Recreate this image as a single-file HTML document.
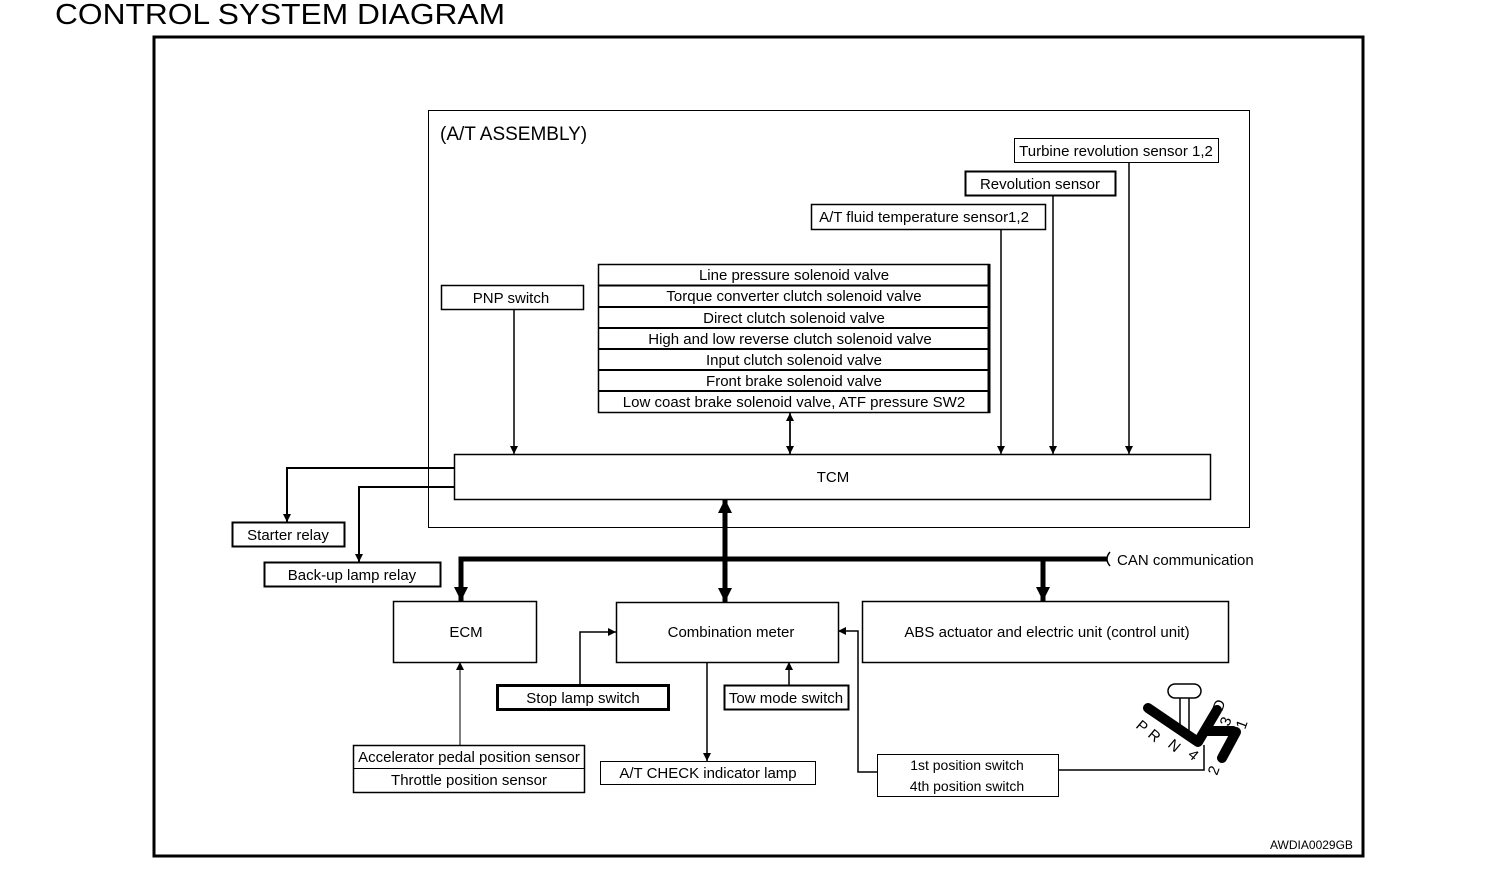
<!DOCTYPE html>
<html><head><meta charset="utf-8"><style>
html,body{margin:0;padding:0;background:#fff;}
svg{display:block;}
text{font-family:"Liberation Sans Narrow","Liberation Sans",sans-serif;font-size:15px;fill:#000;}
</style></head><body>
<svg width="1504" height="870" viewBox="0 0 1504 870" xmlns="http://www.w3.org/2000/svg">
<defs>
<marker id="a" viewBox="0 0 10 10" refX="10" refY="5" markerWidth="8" markerHeight="8" markerUnits="userSpaceOnUse" orient="auto"><path d="M0,0 L10,5 L0,10 z"/></marker>
<marker id="b" viewBox="0 0 10 10" refX="10" refY="5" markerWidth="14" markerHeight="14" markerUnits="userSpaceOnUse" orient="auto"><path d="M0,0 L10,5 L0,10 z"/></marker>
</defs>
<text x="55" y="24" textLength="450" lengthAdjust="spacingAndGlyphs" style="font-family:'Liberation Sans',sans-serif;font-size:29px">CONTROL SYSTEM DIAGRAM</text>
<rect x="154" y="37" width="1209" height="819" fill="none" stroke="#000" stroke-width="3"/>
<rect x="428.5" y="110.5" width="821" height="417" fill="none" stroke="#000" stroke-width="1"/>
<text x="440" y="140" style="font-size:19px">(A/T ASSEMBLY)</text>
<g fill="none" stroke="#000">
<rect x="1014.5" y="138.5" width="204" height="24" stroke-width="1"/>
<rect x="965.5" y="171.5" width="150" height="24" stroke-width="2"/>
<rect x="811.5" y="204.5" width="234" height="25" stroke-width="1.5"/>
<rect x="441.5" y="285.5" width="142" height="24" stroke-width="1.5"/>
<rect x="598.5" y="264.5" width="391" height="148" stroke-width="1.5"/>
<line x1="989" y1="264" x2="989" y2="413" stroke-width="3"/>
<path d="M598 285.5H990M598 307H990M598 328H990M598 349H990M598 370H990M598 391H990" stroke-width="2"/>
<rect x="454.5" y="454.5" width="756" height="45" stroke-width="1.5"/>
<rect x="232.5" y="522.5" width="112" height="24" stroke-width="2"/>
<rect x="264.5" y="562.5" width="176" height="24" stroke-width="2"/>
<rect x="393.5" y="601.5" width="143" height="61" stroke-width="1.5"/>
<rect x="616.5" y="602.5" width="222" height="60" stroke-width="1.5"/>
<rect x="862.5" y="601.5" width="366" height="61" stroke-width="1.5"/>
<rect x="497.5" y="685.5" width="171" height="24" stroke-width="3"/>
<rect x="724.5" y="685.5" width="124" height="24" stroke-width="2"/>
<rect x="600.5" y="761.5" width="215" height="23" stroke-width="1"/>
<rect x="353.5" y="745.5" width="231" height="47" stroke-width="1.5"/>
<line x1="353" y1="768.5" x2="585" y2="768.5" stroke-width="1"/>
<rect x="877.5" y="754.5" width="181" height="42" stroke-width="1"/>
</g>
<g stroke="#000" stroke-width="1.5" fill="none">
<line x1="514" y1="309" x2="514" y2="454" marker-end="url(#a)"/>
<line x1="790" y1="454" x2="790" y2="413" marker-end="url(#a)"/>
<line x1="790" y1="413" x2="790" y2="454" marker-end="url(#a)"/>
<line x1="1001" y1="229" x2="1001" y2="454" marker-end="url(#a)"/>
<line x1="1053" y1="195" x2="1053" y2="454" marker-end="url(#a)"/>
<line x1="1129" y1="162" x2="1129" y2="454" marker-end="url(#a)"/>
<path d="M454 468H287V522" stroke-width="2" marker-end="url(#a)"/>
<path d="M454 487H359V562" stroke-width="2" marker-end="url(#a)"/>
<path d="M580 685V632H616" marker-end="url(#a)"/>
<line x1="789" y1="685" x2="789" y2="662" marker-end="url(#a)"/>
<line x1="707" y1="662" x2="707" y2="761" marker-end="url(#a)"/>
<line x1="460" y1="745" x2="460" y2="662" stroke-width="1" marker-end="url(#a)"/>
<path d="M877 772H858V631H838" marker-end="url(#a)"/>
<path d="M1058 770H1204V745" stroke-width="1.5"/>
</g>
<g stroke="#000" stroke-width="5" fill="none">
<path d="M1107 559H461V601" marker-end="url(#b)"/>
<line x1="1043" y1="559" x2="1043" y2="601" marker-end="url(#b)"/>
<line x1="725" y1="550" x2="725" y2="602" marker-end="url(#b)"/>
<line x1="725" y1="550" x2="725" y2="499" marker-end="url(#b)"/>
</g>
<path d="M1110 552 Q1104 559 1110 566" stroke="#000" stroke-width="1.5" fill="none"/>
<text x="1117" y="565">CAN communication</text>
<!-- shifter -->
<g stroke="#000" fill="none">
<rect x="1168" y="684" width="33" height="14" rx="7" stroke-width="1.5"/>
<line x1="1180" y1="698" x2="1180" y2="727" stroke-width="1.5"/>
<line x1="1189" y1="698" x2="1189" y2="732" stroke-width="1.5"/>
<g stroke-width="10" stroke-linecap="round" stroke-linejoin="round">
<path d="M1148 708L1198 742L1217 710"/>
<line x1="1207" y1="731" x2="1233" y2="731"/>
<line x1="1236" y1="732" x2="1222" y2="758"/>
</g>
</g>
<g style="font-family:'Liberation Sans',sans-serif;font-size:13px">
<text transform="translate(1135,727) rotate(40)">P</text>
<text transform="translate(1147,736) rotate(40)">R</text>
<text transform="translate(1167,746) rotate(40)">N</text>
<text transform="translate(1187,756) rotate(40)">4</text>
<text transform="translate(1217,776) rotate(-70)">2</text>
<text transform="translate(1222,712) rotate(-70)">D</text>
<text transform="translate(1229,727) rotate(-70)">3</text>
<text transform="translate(1245,730) rotate(-70)">1</text>
</g>
<g text-anchor="middle">
<text x="1116" y="156">Turbine revolution sensor 1,2</text>
<text x="1040" y="189">Revolution sensor</text>
<text x="924" y="222">A/T fluid temperature sensor1,2</text>
<text x="511" y="303">PNP switch</text>
<text x="794" y="280">Line pressure solenoid valve</text>
<text x="794" y="301">Torque converter clutch solenoid valve</text>
<text x="794" y="323">Direct clutch solenoid valve</text>
<text x="790" y="344">High and low reverse clutch solenoid valve</text>
<text x="794" y="365">Input clutch solenoid valve</text>
<text x="794" y="386">Front brake solenoid valve</text>
<text x="794" y="407">Low coast brake solenoid valve, ATF pressure SW2</text>
<text x="833" y="482">TCM</text>
<text x="288" y="540">Starter relay</text>
<text x="352" y="580">Back-up lamp relay</text>
<text x="466" y="637">ECM</text>
<text x="731" y="637">Combination meter</text>
<text x="1047" y="637">ABS actuator and electric unit (control unit)</text>
<text x="583" y="703">Stop lamp switch</text>
<text x="786" y="703">Tow mode switch</text>
<text x="708" y="778">A/T CHECK indicator lamp</text>
<text x="469" y="762">Accelerator pedal position sensor</text>
<text x="469" y="785">Throttle position sensor</text>
<text x="967" y="770" style="font-size:14px">1st position switch</text>
<text x="967" y="791" style="font-size:14px">4th position switch</text>
</g>
<text x="1270" y="849" style="font-size:12px">AWDIA0029GB</text>
</svg>
</body></html>
